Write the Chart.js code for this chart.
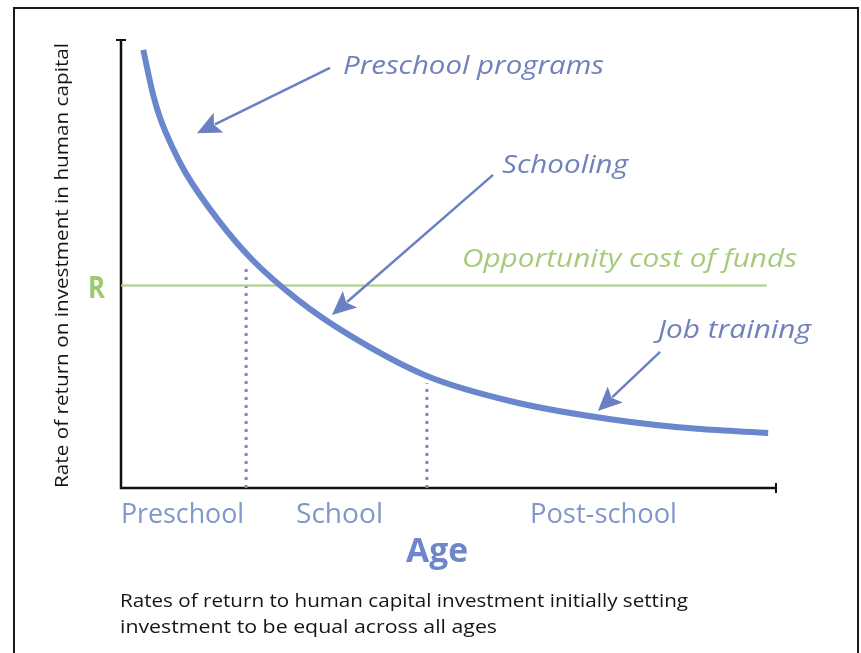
<!DOCTYPE html>
<html><head><meta charset="utf-8">
<script src="https://cdn.jsdelivr.net/npm/chart.js@4.4.1/dist/chart.umd.min.js"></script>
<style>html,body{margin:0;padding:0;background:#fff}#wrap{width:861px;height:653px;position:relative}</style>
</head><body><div id="wrap"><canvas id="c" width="861" height="653"></canvas></div>
<script>
// ---- data (arbitrary units: age index 0-100, rate 0-100) ----
const ages  = [3.4, 4.9, 6.0, 8.0, 10.0, 15.0, 20.0, 27.0, 35.0, 46.7, 60.0, 75.0, 88.0, 98.8];
const rates = [97.8, 87.8, 82.5, 75.6, 70.0, 59.5, 51.0, 42.0, 34.0, 25.0, 19.2, 15.3, 13.2, 12.3];
const opportunityCost = 45.2;
const costLineEnd = 98.6;
const stageBoundaries = [19.1, 46.7];
const boundaryTops = [49.3, 23.4];
const stageLabels = ['Preschool', 'School', 'Post-school'];
const xTitle = 'Age';
const yTitle = 'Rate of return on investment in human capital';
const rLabel = 'R';
const costLabel = 'Opportunity cost of funds';
const curveLabels = ['Preschool programs', 'Schooling', 'Job training'];
const captionLines = ['Rates of return to human capital investment initially setting',
                      'investment to be equal across all ages'];

const curveData = ages.map((a, i) => ({x: a, y: rates[i]}));
const costData = [{x: 0, y: opportunityCost}, {x: costLineEnd, y: opportunityCost}];
const dividerSets = stageBoundaries.map((b, i) => ({
  data: [{x: b, y: 0}, {x: b, y: boundaryTops[i]}],
  borderColor: '#7189c9', borderWidth: 3, borderDash: [3, 5], pointRadius: 0, order: 3
}));

function fitText(ctx, text, x, y, font, width, color) {
  ctx.save();
  ctx.font = font;
  ctx.fillStyle = color;
  ctx.textAlign = 'left';
  ctx.textBaseline = 'alphabetic';
  const m = ctx.measureText(text).width;
  ctx.translate(x, y);
  ctx.scale(width / m, 1);
  ctx.fillText(text, 0, 0);
  ctx.restore();
}

function arrow(ctx, x1, y1, x2, y2, color) {
  const ang = Math.atan2(y2 - y1, x2 - x1);
  const L = 24, W = 11;
  const bx = x2 - L * Math.cos(ang), by = y2 - L * Math.sin(ang);
  ctx.save();
  ctx.strokeStyle = color; ctx.fillStyle = color; ctx.lineWidth = 2.5;
  ctx.beginPath(); ctx.moveTo(x1, y1); ctx.lineTo(bx + 4 * Math.cos(ang), by + 4 * Math.sin(ang)); ctx.stroke();
  ctx.beginPath();
  ctx.moveTo(x2, y2);
  ctx.lineTo(bx + W * Math.sin(ang), by - W * Math.cos(ang));
  ctx.lineTo(bx + 5 * Math.cos(ang), by + 5 * Math.sin(ang));
  ctx.lineTo(bx - W * Math.sin(ang), by + W * Math.cos(ang));
  ctx.closePath(); ctx.fill();
  ctx.restore();
}

const decor = {
  id: 'decor',
  beforeDatasetsDraw(chart) {
    const ctx = chart.ctx, a = chart.chartArea;
    ctx.save();
    ctx.strokeStyle = '#1a1a1a'; ctx.lineWidth = 2;
    ctx.strokeRect(14, 8, 844, 700);
    ctx.restore();
    ctx.save();
    ctx.strokeStyle = '#111'; ctx.lineWidth = 2.5;
    ctx.beginPath();
    ctx.moveTo(a.left, a.top); ctx.lineTo(a.left, a.bottom); ctx.lineTo(a.right, a.bottom);
    ctx.stroke();
    ctx.lineWidth = 2;
    ctx.beginPath();
    ctx.moveTo(a.left - 5, a.top); ctx.lineTo(a.left + 5, a.top);
    ctx.moveTo(a.right, a.bottom - 5); ctx.lineTo(a.right, a.bottom + 5);
    ctx.stroke();
    ctx.restore();
  },
  afterDatasetsDraw(chart) {
    const ctx = chart.ctx, a = chart.chartArea;
    const xs = chart.scales.x, ys = chart.scales.y;
    const px = v => xs.getPixelForValue(v), py = v => ys.getPixelForValue(v);
    const annoColor = '#7181bb', arrowColor = '#6b80c2';
    const it = 'italic 26px "Open Sans", "DejaVu Sans", sans-serif';

    arrow(ctx, px(31.9), py(93.8), px(11.6), py(79.2), arrowColor);
    arrow(ctx, px(56.8), py(69.9), px(32.2), py(38.6), arrowColor);
    arrow(ctx, px(82.3), py(30.4), px(72.8), py(17.2), arrowColor);

    fitText(ctx, curveLabels[0], 343, 74, it, 261, annoColor);
    fitText(ctx, curveLabels[1], 502, 173, it, 126, annoColor);
    fitText(ctx, curveLabels[2], 658, 338, it, 153, annoColor);
    fitText(ctx, costLabel, 462, 267, it, 335, '#a6cb7c');

    fitText(ctx, rLabel, 88, py(opportunityCost) + 12, 'bold 30px "Open Sans", sans-serif', 17, '#9bc96d');

    const sf = '28px "Open Sans", "DejaVu Sans", sans-serif';
    fitText(ctx, stageLabels[0], 121, 523, sf, 123, '#8196c9');
    fitText(ctx, stageLabels[1], 296, 523, sf, 87, '#8196c9');
    fitText(ctx, stageLabels[2], 530, 523, sf, 147, '#8196c9');

    fitText(ctx, xTitle, 406, 562, 'bold 34px "Open Sans", sans-serif', 62, '#6d87c9');

    const cf = '19px "Open Sans", "DejaVu Sans", sans-serif';
    fitText(ctx, captionLines[0], 120, 607, cf, 568, '#151515');
    fitText(ctx, captionLines[1], 120, 633, cf, 377, '#151515');

    ctx.save();
    ctx.translate(68, a.bottom);
    ctx.rotate(-Math.PI / 2);
    fitText(ctx, yTitle, 0, 0, '18px "Open Sans", "DejaVu Sans", sans-serif', 445, '#151515');
    ctx.restore();
  }
};

new Chart(document.getElementById('c'), {
  type: 'line',
  data: {
    datasets: [
      {data: curveData, borderColor: '#6a86cc', borderWidth: 6, pointRadius: 0,
       cubicInterpolationMode: 'monotone', borderCapStyle: 'butt', order: 1},
      {data: costData, borderColor: '#a8d080', borderWidth: 2, pointRadius: 0, order: 2},
      ...dividerSets
    ]
  },
  options: {
    responsive: false,
    animation: false,
    events: [],
    layout: {padding: {left: 121, top: 40, right: 85, bottom: 165}},
    plugins: {legend: {display: false}, tooltip: {enabled: false}, title: {display: false}},
    scales: {
      x: {type: 'linear', min: 0, max: 100, display: false},
      y: {type: 'linear', min: 0, max: 100, display: false}
    }
  },
  plugins: [decor]
});
</script>
</body></html>
